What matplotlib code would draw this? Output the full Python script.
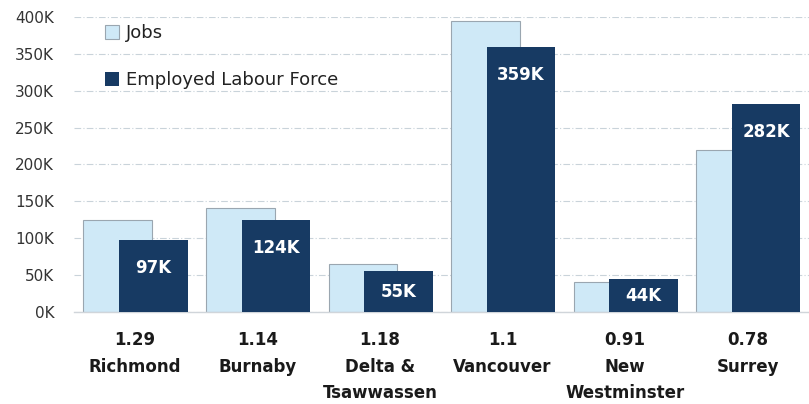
import matplotlib
matplotlib.use("Agg")
from matplotlib import pyplot as plt
from matplotlib.ticker import FuncFormatter
import numpy as np

plt.rcParams['font.family'] = ['DejaVu Sans']

cities = ['Richmond', 'Burnaby', 'Delta &\nTsawwassen', 'Vancouver', 'New\nWestminster', 'Surrey']
ratios = ['1.29', '1.14', '1.18', '1.1', '0.91', '0.78']
jobs = [125, 141, 65, 395, 40, 220]          # thousands
labour_force = [97, 124, 55, 359, 44, 282]   # thousands

light = '#cfe9f7'
dark = '#173a63'

x = np.arange(len(cities))
width = 0.56

fig = plt.figure(figsize=(8.09, 4.04), dpi=100)
ax = fig.add_axes([0.091, 0.228, 0.909, 0.73])

ax.bar(x - 0.14, [v * 1000 for v in jobs], width, color=light,
       edgecolor='#9aa6b0', linewidth=0.8, label='Jobs', zorder=2)
bars = ax.bar(x + 0.15, [v * 1000 for v in labour_force], width, color=dark,
              label='Employed Labour Force', zorder=3)

# value labels inside the dark bars
for rect, v in zip(bars, labour_force):
    cx = rect.get_x() + rect.get_width() / 2
    if v < 70:
        ax.text(cx, v * 1000 / 2, f'{v}K', ha='center', va='center',
                color='white', fontsize=12, fontweight='bold', zorder=4)
    else:
        ax.annotate(f'{v}K', xy=(cx, v * 1000), xytext=(0, -20),
                    textcoords='offset points', ha='center', va='center',
                    color='white', fontsize=12, fontweight='bold', zorder=4)

ax.set_xlim(-0.5, len(cities) - 0.5)
ax.set_ylim(0, 400000)
ax.set_yticks(np.arange(0, 400001, 50000))
ax.yaxis.set_major_formatter(FuncFormatter(lambda v, p: f'{int(v / 1000)}K'))
ax.tick_params(axis='y', length=0, pad=14, labelsize=11, labelcolor='#333333')

ax.set_xticks(x)
ax.set_xticklabels([f'{r}\n{c}' for r, c in zip(ratios, cities)],
                   fontsize=12, fontweight='bold', color='#1a1a1a', linespacing=1.6)
ax.tick_params(axis='x', length=0, pad=14)

ax.grid(axis='y', color='#c9d3da', linestyle=(0, (6, 2, 1, 2)), linewidth=0.8, zorder=0)
for side in ['top', 'right', 'left']:
    ax.spines[side].set_visible(False)
ax.spines['bottom'].set_color('#d0d5da')
ax.spines['bottom'].set_linewidth(1.0)

ax.legend(loc='upper left', bbox_to_anchor=(0.02, 1.03), frameon=False,
          fontsize=13, labelspacing=1.6, handlelength=0.8, handleheight=0.8,
          handletextpad=0.4, labelcolor='#222222')

fig.savefig('out.png', dpi=100, facecolor='white')
